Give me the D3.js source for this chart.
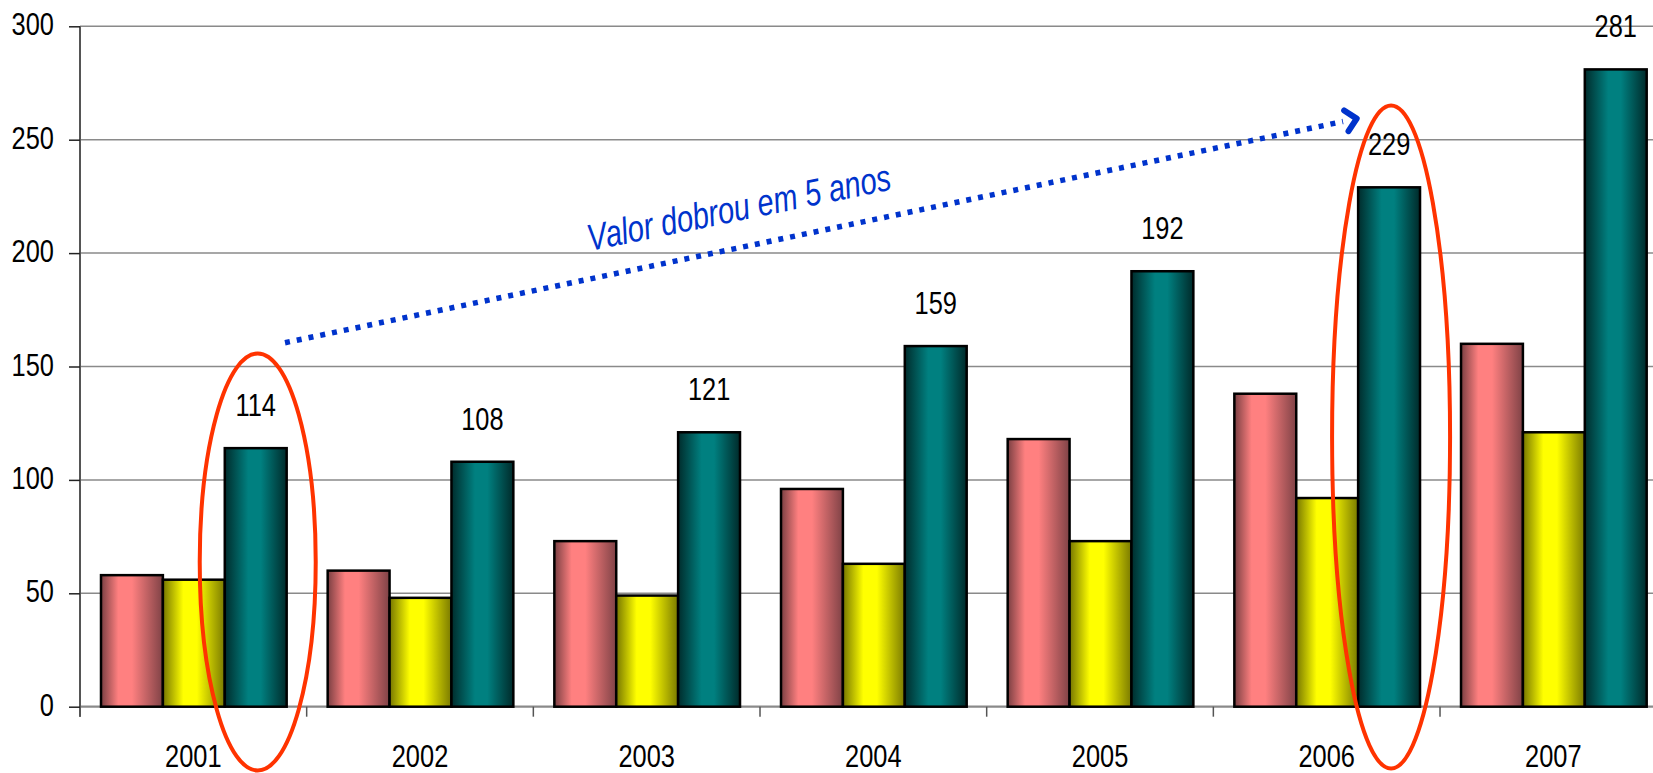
<!DOCTYPE html>
<html>
<head>
<meta charset="utf-8">
<script src="https://cdn.jsdelivr.net/npm/d3@7/dist/d3.min.js"></script>
<style>
  html, body { margin: 0; padding: 0; background: #fff; overflow: hidden; }
  svg { display: block; }
  text { font-family: "Liberation Sans", Arial, sans-serif; }
</style>
</head>
<body>
<svg id="chart" width="1653" height="773"></svg>
<script>
// Yearly values for three series
const years = ["2001", "2002", "2003", "2004", "2005", "2006", "2007"];
const seriesNames = ["rosa", "amarelo", "verde"];
const rosaValues = [58, 60, 73, 96, 118, 138, 160];
const amareloValues = [56, 48, 49, 63, 73, 92, 121];
const verdeValues = [114, 108, 121, 159, 192, 229, 281];
const yTicks = [0, 50, 100, 150, 200, 250, 300];
const noteText = "Valor dobrou em 5 anos";
const highlightYears = ["2001", "2006"];

const seriesValues = [rosaValues, amareloValues, verdeValues];

const svg = d3.select("#chart");
const W = 1653, H = 773;
const left = 80, bandW = 226.67;
const y0px = 706.7, y300px = 26.3;
const narrow = 0.82; // horizontal squeeze for a condensed look

// gradients: dark edges, bright band left of centre
const gradDefs = [
  { id: "g-rosa", stops: [[0, "#7a3f42"], [0.28, "#ff8080"], [0.5, "#ff8080"], [1, "#7f4246"]] },
  { id: "g-amarelo", stops: [[0, "#767600"], [0.33, "#ffff00"], [0.55, "#ffff00"], [1, "#7a7a00"]] },
  { id: "g-verde", stops: [[0, "#002c2c"], [0.38, "#008080"], [0.58, "#008080"], [1, "#002a2a"]] }
];
const defs = svg.append("defs");
gradDefs.forEach(g => {
  const lg = defs.append("linearGradient").attr("id", g.id)
    .attr("x1", "0").attr("y1", "0").attr("x2", "1").attr("y2", "0");
  g.stops.forEach(s => lg.append("stop").attr("offset", s[0]).attr("stop-color", s[1]));
});

const x0 = d3.scaleBand().domain(years).range([left, left + bandW * years.length]).padding(0);
const x1 = d3.scaleBand().domain(seriesNames).range([21, bandW - 20]).padding(0);
const y = d3.scaleLinear().domain([0, 300]).range([y0px, y300px]);

// places condensed text at (x, y)
function narrowText(sel, x, y, anchor, size) {
  return sel
    .attr("transform", (d, i) => `translate(${x(d, i)},${y(d, i)}) scale(${narrow},1)`)
    .attr("text-anchor", anchor)
    .attr("font-size", size)
    .attr("fill", "#000");
}

// horizontal gridlines
svg.append("g").selectAll("line").data(yTicks.filter(t => t > 0)).join("line")
  .attr("x1", left).attr("x2", W)
  .attr("y1", d => y(d)).attr("y2", d => y(d))
  .attr("stroke", "#8a8a8a").attr("stroke-width", 1.5);

// x axis line with ticks at band boundaries
svg.append("line").attr("x1", left).attr("x2", W).attr("y1", y0px).attr("y2", y0px)
  .attr("stroke", "#8a8a8a").attr("stroke-width", 2.2);
const boundaries = years.map(d => x0(d));
svg.append("g").selectAll("line").data(boundaries).join("line")
  .attr("x1", d => d).attr("x2", d => d)
  .attr("y1", y0px).attr("y2", y0px + 10)
  .attr("stroke", "#555").attr("stroke-width", 1.5);

// y axis line and ticks
svg.append("line").attr("x1", left).attr("x2", left).attr("y1", y(300)).attr("y2", y0px + 10)
  .attr("stroke", "#555").attr("stroke-width", 2);
const yAxis = d3.axisLeft(y).tickValues(yTicks).tickSize(11).tickFormat(() => "");
const yg = svg.append("g").attr("transform", `translate(${left},0)`).call(yAxis);
yg.select(".domain").remove();
yg.selectAll(".tick line").attr("stroke", "#222").attr("stroke-width", 1.5);

// y tick labels
narrowText(svg.append("g").selectAll("text").data(yTicks).join("text"),
  () => 54, d => y(d) + 9, "end", 31).text(d => d);

// x labels
narrowText(svg.append("g").selectAll("text").data(years).join("text"),
  d => x0(d) + bandW / 2, () => 767, "middle", 31).text(d => d);

// bars
const groups = svg.append("g").selectAll("g").data(years).join("g")
  .attr("transform", d => `translate(${x0(d)},0)`);
groups.selectAll("rect")
  .data((d, i) => seriesNames.map((s, k) => ({ s, k, v: seriesValues[k][i] })))
  .join("rect")
  .attr("x", d => x1(d.s))
  .attr("width", x1.bandwidth())
  .attr("y", d => y(d.v))
  .attr("height", d => y0px - y(d.v))
  .attr("fill", d => `url(#${gradDefs[d.k].id})`)
  .attr("stroke", "#000")
  .attr("stroke-width", 2.5);

// value labels above the third series
narrowText(svg.append("g").selectAll("text").data(years).join("text"),
  d => x0(d) + x1("verde") + x1.bandwidth() / 2,
  (d, i) => y(verdeValues[i]) - 32, "middle", 31)
  .text((d, i) => verdeValues[i]);

// red ellipses around the highlighted bars
const ellipseSpec = [
  { year: highlightYears[0], cy: 562, ry: 208.5, rx: 58 },
  { year: highlightYears[1], cy: 437, ry: 331.5, rx: 59 }
];
svg.append("g").selectAll("ellipse").data(ellipseSpec).join("ellipse")
  .attr("cx", d => x0(d.year) + x1("verde") + x1.bandwidth() / 2 + 2)
  .attr("cy", d => d.cy)
  .attr("rx", d => d.rx)
  .attr("ry", d => d.ry)
  .attr("fill", "none")
  .attr("stroke", "#ff3300")
  .attr("stroke-width", 4);

// dotted arrow between the highlighted years
const blue = "#0033cc";
const a0 = [285, 342.7], a1 = [1343, 121.5];
svg.append("line")
  .attr("x1", a0[0]).attr("y1", a0[1]).attr("x2", a1[0]).attr("y2", a1[1])
  .attr("stroke", blue).attr("stroke-width", 5.5)
  .attr("stroke-dasharray", "5,7");
const ang = Math.atan2(a1[1] - a0[1], a1[0] - a0[0]);
const tip = [a1[0] + 14 * Math.cos(ang), a1[1] + 14 * Math.sin(ang)];
const arm = 15, spread = Math.PI / 4;
const p1 = [tip[0] - arm * Math.cos(ang - spread), tip[1] - arm * Math.sin(ang - spread)];
const p2 = [tip[0] - arm * Math.cos(ang + spread), tip[1] - arm * Math.sin(ang + spread)];
svg.append("path")
  .attr("d", d3.line()([p1, tip, p2]))
  .attr("fill", "none").attr("stroke", blue).attr("stroke-width", 6)
  .attr("stroke-linecap", "round").attr("stroke-linejoin", "round");

// annotation text
svg.append("text")
  .attr("transform", `translate(590,251) rotate(-11.5) scale(0.775,1)`)
  .attr("font-size", 37.5)
  .attr("font-style", "italic")
  .attr("fill", blue)
  .text(noteText);
</script>
</body>
</html>
